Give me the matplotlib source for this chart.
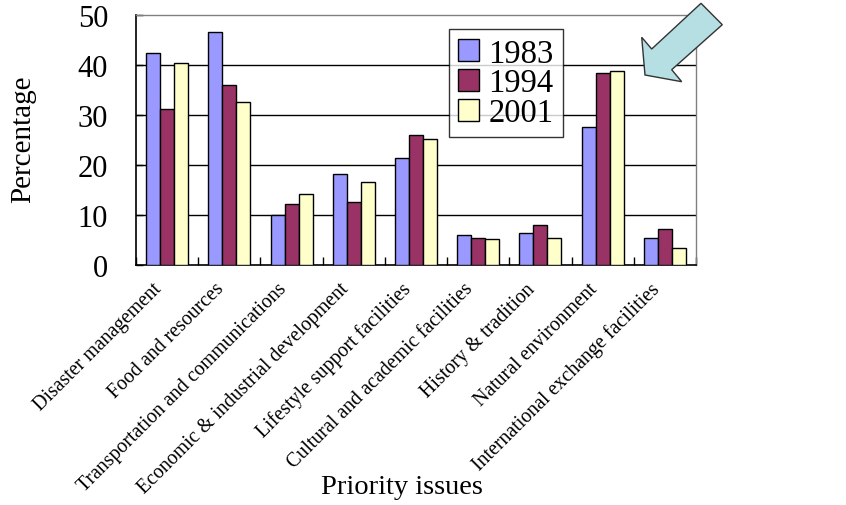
import matplotlib
matplotlib.use("Agg")
import matplotlib.pyplot as plt
import numpy as np
from matplotlib.patches import Polygon
from matplotlib.transforms import ScaledTranslation

plt.rcParams['font.family'] = ['Liberation Serif', 'DejaVu Serif']

categories = ["Disaster management", "Food and resources",
              "Transportation and communications",
              "Economic & industrial development",
              "Lifestyle support facilities",
              "Cultural and academic facilities",
              "History & tradition", "Natural environment",
              "International exchange facilities"]
years = ["1983", "1994", "2001"]
v1983 = [42.5, 46.7, 10.1, 18.3, 21.4, 6.1, 6.5, 27.6, 5.4]
v1994 = [31.2, 36.1, 12.3, 12.7, 26.1, 5.5, 8.1, 38.5, 7.3]
v2001 = [40.5, 32.7, 14.3, 16.7, 25.3, 5.2, 5.4, 38.9, 3.5]
colors = ["#9999FF", "#993366", "#FFFFCC"]
yticks = [0, 10, 20, 30, 40, 50]

W, H = 846, 506
fig = plt.figure(figsize=(W / 100, H / 100), dpi=100)
L, R, T, B = 136, 696, 16, 266
ax = fig.add_axes([L / W, (H - B) / H, (R - L) / W, (B - T) / H])

n = len(categories)
x = np.arange(n)
bw = 0.225
for i, (vals, c, lab) in enumerate(zip([v1983, v1994, v2001], colors, years)):
    ax.bar(x + (i - 1) * bw, vals, width=bw, color=c, edgecolor="black",
           linewidth=1.0, label=lab, zorder=3)

ax.set_xlim(-0.5, n - 0.5)
ax.set_ylim(0, 50)
ax.set_yticks(yticks)
ax.set_yticklabels([str(t) for t in yticks], fontsize=22)
for t in yticks[1:-1]:
    ax.axhline(t, color="black", linewidth=1.0, zorder=1)

# ticks at category boundaries, labels at centres
ax.set_xticks(np.arange(-0.5, n, 1.0))
ax.set_xticklabels([])
ax.tick_params(axis="x", which="major", direction="in", length=6, width=1, colors="black")
ax.set_xticks(x, minor=True)
ax.set_xticklabels(categories, minor=True, rotation=45, ha="right",
                   va="center", rotation_mode="anchor", fontsize=14.3)
ax.tick_params(axis="x", which="minor", length=0, pad=15)
ax.tick_params(axis="y", direction="in", length=5, width=1, pad=20)
shift = ScaledTranslation(-8 / 100, 0, fig.dpi_scale_trans)
for lbl in ax.get_xticklabels(minor=True):
    lbl.set_transform(lbl.get_transform() + shift)

for s in ["left", "bottom"]:
    ax.spines[s].set_color("black")
    ax.spines[s].set_linewidth(1.2)
for s in ["top", "right"]:
    ax.spines[s].set_color("#808080")
    ax.spines[s].set_linewidth(1.0)

fig.text(23 / W, 1 - 139 / H, "Percentage", rotation=90, ha="center", va="center", fontsize=21)
fig.text(402 / W, 1 - 488 / H, "Priority issues", ha="center", va="center", fontsize=20.5)

leg = ax.legend(loc="upper left", bbox_to_anchor=(449 / W, 1 - 30 / H),
                bbox_transform=fig.transFigure, fontsize=23.5, frameon=True,
                fancybox=False, shadow=False, handlelength=0.65, handleheight=0.65,
                handletextpad=0.28, labelspacing=-0.02, borderpad=0.28, borderaxespad=0)
leg.get_frame().set_edgecolor("black")
leg.get_frame().set_linewidth(1.0)
leg.set_zorder(5)

arrow_px = [(701, 4.3), (722.3, 25.7), (671.7, 70.7), (681.7, 82.7),
            (645, 76), (641.7, 38.3), (651.7, 50)]
arrow = Polygon([(px / W, 1 - py / H) for px, py in arrow_px], closed=True,
                transform=fig.transFigure, facecolor="#B6DFE3", edgecolor="#333333",
                linewidth=1.0, zorder=10)
fig.patches.append(arrow)

fig.savefig("out.png", dpi=100)
